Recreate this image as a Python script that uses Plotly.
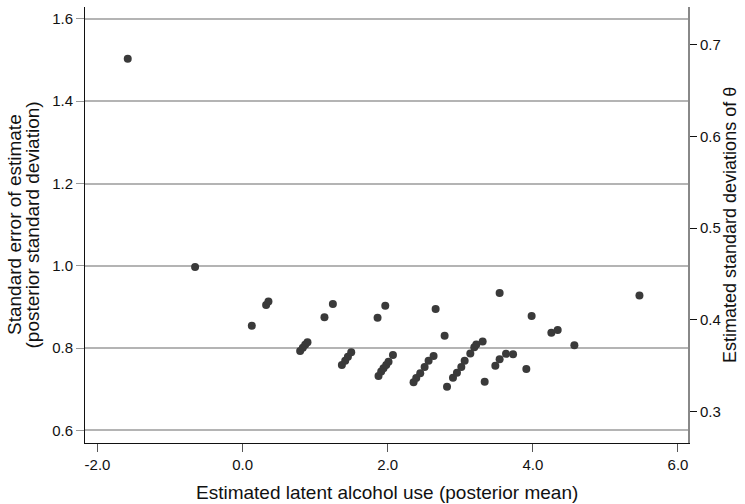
import plotly.graph_objects as go

# Posterior mean (x) and posterior SD (y) per observation
post_mean = [-1.583, -0.655, 0.127, 0.324, 0.356,
             0.793, 0.830, 0.862, 0.894,
             1.128, 1.244,
             1.368, 1.414, 1.451, 1.497,
             1.860, 1.966,
             1.873, 1.910, 1.942, 1.979, 2.011, 2.072,
             2.660, 2.784,
             2.356, 2.393, 2.448, 2.508, 2.563, 2.632,
             2.817, 2.899, 2.954, 3.014, 3.060, 3.138, 3.193, 3.221, 3.308,
             3.542, 3.336, 3.483, 3.542, 3.630, 3.727,
             3.983, 3.910, 4.255, 4.342, 4.572, 5.469]
post_sd = [1.503, 0.997, 0.854, 0.905, 0.913,
           0.793, 0.801, 0.808, 0.814,
           0.875, 0.907,
           0.759, 0.769, 0.779, 0.790,
           0.874, 0.903,
           0.732, 0.743, 0.751, 0.759, 0.767, 0.783,
           0.895, 0.830,
           0.717, 0.727, 0.739, 0.754, 0.769, 0.781,
           0.706, 0.728, 0.740, 0.754, 0.769, 0.787, 0.802, 0.809, 0.816,
           0.934, 0.718, 0.757, 0.773, 0.786, 0.785,
           0.878, 0.749, 0.837, 0.844, 0.807, 0.928]

x_ticks = [-2, 0, 2, 4, 6]
x_tick_labels = ["-2.0", "0.0", "2.0", "4.0", "6.0"]
y_ticks = [0.6, 0.8, 1.0, 1.2, 1.4, 1.6]
y2_ticks = [0.3, 0.4, 0.5, 0.6, 0.7]

x_title = "Estimated latent alcohol use (posterior mean)"
y_title_lines = ["Standard error of estimate", "(posterior standard deviation)"]
y2_title = "Estimated standard deviations of θ"

FONT = "Liberation Sans, Arial, Helvetica, sans-serif"
W, H = 745, 504
L, R, T, B = 85, 688, 7, 443


def px(xp):
    return (xp - L) / (R - L)


def py(yp):
    return (B - yp) / (B - T)


fig = go.Figure()
fig.add_trace(go.Scatter(
    x=post_mean, y=post_sd, mode="markers",
    marker=dict(size=8, color="#3a3a3a", line=dict(width=0)),
    showlegend=False, hoverinfo="x+y"))
# invisible trace to anchor the secondary axis
fig.add_trace(go.Scatter(x=[None], y=[None], yaxis="y2", showlegend=False,
                         hoverinfo="skip", mode="markers"))

y_lo, y_hi = 0.5693, 1.629
slope, icpt = 0.4483, 0.0106

annotations = [
    dict(text=x_title, xref="paper", yref="paper", x=0.5, y=py(492),
         xanchor="center", yanchor="middle", showarrow=False, font=dict(size=19)),
    dict(text=y_title_lines[0], xref="paper", yref="paper", x=px(14), y=0.5,
         xanchor="center", yanchor="middle", textangle=-90, showarrow=False,
         font=dict(size=19)),
    dict(text=y_title_lines[1], xref="paper", yref="paper", x=px(31.5), y=0.5,
         xanchor="center", yanchor="middle", textangle=-90, showarrow=False,
         font=dict(size=19)),
    dict(text=y2_title, xref="paper", yref="paper", x=px(730), y=0.5,
         xanchor="center", yanchor="middle", textangle=-90, showarrow=False,
         font=dict(size=18)),
]

fig.update_layout(
    width=W, height=H,
    margin=dict(l=L, r=W - R, t=T, b=H - B, autoexpand=False),
    paper_bgcolor="white", plot_bgcolor="white",
    font=dict(family=FONT, size=15, color="#111"),
    annotations=annotations,
    xaxis=dict(
        range=[-2.172, 6.138], tickvals=x_ticks, ticktext=x_tick_labels,
        showgrid=False, zeroline=False, showline=True, linecolor="#111", linewidth=1,
        ticks="outside", ticklen=8, tickcolor="#555", tickwidth=1, automargin=False),
    yaxis=dict(
        range=[y_lo, y_hi], tickvals=y_ticks, tickformat=".1f",
        showgrid=True, gridcolor="#b4b4b4", gridwidth=2,
        zeroline=False, showline=True, linecolor="#111", linewidth=1,
        ticks="outside", ticklen=8, tickcolor="#999", tickwidth=1, automargin=False),
    yaxis2=dict(
        overlaying="y", side="right",
        range=[slope * y_lo + icpt, slope * y_hi + icpt],
        tickvals=y2_ticks, tickformat=".1f",
        showgrid=False, zeroline=False, showline=True, linecolor="#888", linewidth=2,
        ticks="outside", ticklen=7, tickcolor="#111", tickwidth=1, automargin=False),
)

fig.write_html("out.html", config={"displayModeBar": False},
               post_script="document.body.style.margin='0';document.body.style.overflow='hidden';")
